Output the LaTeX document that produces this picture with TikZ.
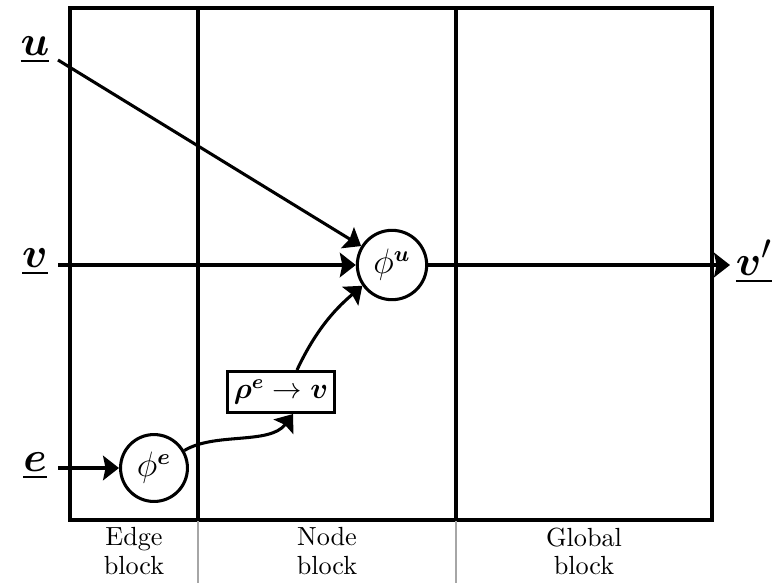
\documentclass[tikz,border=0pt]{standalone}
\usepackage{amsmath,bm}
\usetikzlibrary{arrows.meta}
\begin{document}
\begin{tikzpicture}[x=0.408pt,y=-0.408pt,
  every path/.style={line width=1.25pt},
  frame/.style={line width=1.3pt},
  sep/.style={draw=black!35,line width=1pt},
  arr/.style={-{Stealth[length=6.5pt,width=10pt,inset=1pt]}},
  lbl/.style={font=\fontsize{19}{22}\selectfont,inner sep=1pt},
  fn/.style={circle,draw,line width=1.25pt,inner sep=0pt,font=\fontsize{13.5}{16}\selectfont},
  agg/.style={rectangle,draw,line width=1.25pt,inner sep=0pt,font=\large},
  captxt/.style={align=center,font=\fontsize{10.7}{11.5}\selectfont,inner sep=0pt}]
\useasboundingbox (0,0) rectangle (776,583);
% frame
\draw[frame] (70,8) rectangle (712,520);
\draw[frame] (198,8) -- (198,520);
\draw[frame] (456,8) -- (456,520);
\draw[sep] (198,521) -- (198,583);
\draw[sep] (456,521) -- (456,583);
% labels
\node[lbl] (u) at (35,50) {$\underline{\bm{u}}$};
\node[lbl] (v) at (35,262) {$\underline{\bm{v}}$};
\node[lbl] (e) at (35,466) {$\underline{\bm{e}}$};
\node[lbl] (vp) at (754,262) {$\underline{\bm{v}'}$};
\coordinate (us) at (58,60);
\coordinate (vs) at (58,265);
\coordinate (es) at (58,468);
\coordinate (vend) at (730,265);
% nodes
\node[fn,minimum size=28.3pt] (phiu) at (392,265) {$\phi^{\bm{u}}$};
\node[fn,minimum size=27.3pt] (phie) at (154,468) {$\phi^{\bm{e}}$};
\node[agg,minimum width=43.7pt,minimum height=16.7pt] (rho) at (281,392) {$\bm{\rho}^{\bm{e}}\rightarrow\bm{v}$};
% connectors
\draw[arr] (us) -- (phiu);
\draw[arr] (vs) -- (phiu);
\draw[arr] (phiu) -- (vend);
\draw[arr] (es) -- (phie);
\draw[arr] (phie.30) .. controls (215,432) and (270,445) .. ([xshift=12*0.408pt]rho.south);
\draw[arr] ([xshift=16*0.408pt]rho.north) .. controls (318,325) and (340,305) .. (phiu.215);
% captions
\node[captxt] (ce) at (134,551) {Edge\\block};
\node[captxt] (cn) at (327,551) {Node\\block};
\node[captxt] (cg) at (584,551) {Global\\block};
\end{tikzpicture}
\end{document}
